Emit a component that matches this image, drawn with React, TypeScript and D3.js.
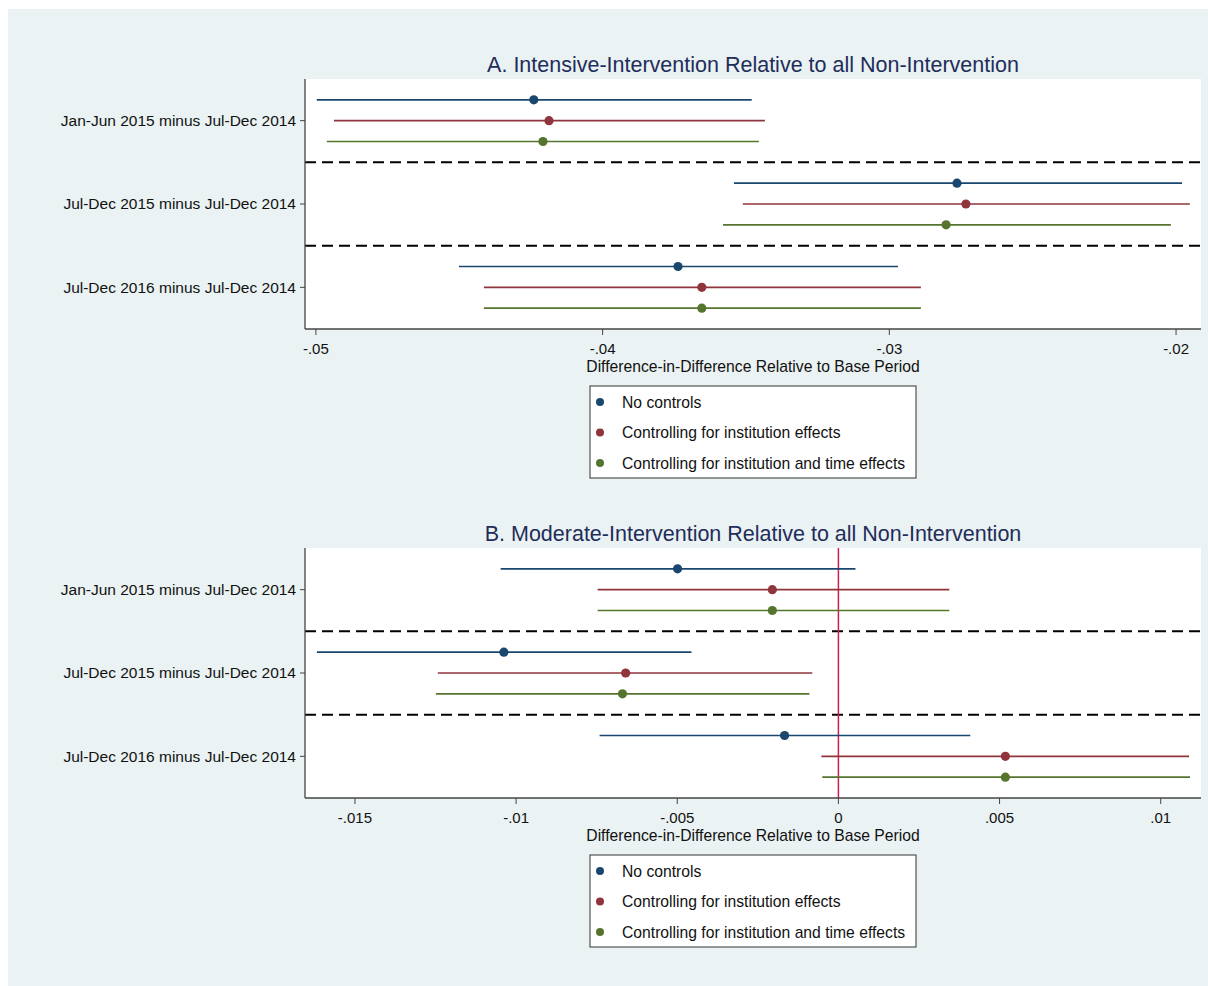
import React from "react";
import * as d3 from "d3";

const categories = [
  "Jan-Jun 2015 minus Jul-Dec 2014",
  "Jul-Dec 2015 minus Jul-Dec 2014",
  "Jul-Dec 2016 minus Jul-Dec 2014",
];
const seriesNames = [
  "No controls",
  "Controlling for institution effects",
  "Controlling for institution and time effects",
];
const seriesColors = ["#1a476f", "#90353b", "#55752f"];

// Panel A
const aNoEst = [-0.0424, -0.02764, -0.03737];
const aNoLo = [-0.04997, -0.03542, -0.04501];
const aNoHi = [-0.0348, -0.01979, -0.0297];
const aInstEst = [-0.04187, -0.02733, -0.03654];
const aInstLo = [-0.04937, -0.03511, -0.04414];
const aInstHi = [-0.03434, -0.01952, -0.0289];
const aTimeEst = [-0.04208, -0.02802, -0.03654];
const aTimeLo = [-0.04962, -0.0358, -0.04414];
const aTimeHi = [-0.03455, -0.02018, -0.0289];
const aTicks = [-0.05, -0.04, -0.03, -0.02];
const aTickLabels = ["-.05", "-.04", "-.03", "-.02"];
const aDomain = [-0.05038, -0.01913];

// Panel B
const bNoEst = [-0.00499, -0.01038, -0.00167];
const bNoLo = [-0.01048, -0.01618, -0.00741];
const bNoHi = [0.00053, -0.00456, 0.00409];
const bInstEst = [-0.00205, -0.0066, 0.00518];
const bInstLo = [-0.00747, -0.01243, -0.00053];
const bInstHi = [0.00344, -0.00081, 0.01088];
const bTimeEst = [-0.00205, -0.0067, 0.00518];
const bTimeLo = [-0.00747, -0.01249, -0.0005];
const bTimeHi = [0.00344, -0.0009, 0.01091];
const bTicks = [-0.015, -0.01, -0.005, 0, 0.005, 0.01];
const bTickLabels = ["-.015", "-.01", "-.005", "0", ".005", ".01"];
const bDomain = [-0.01655, 0.01125];

const xTitle = "Difference-in-Difference Relative to Base Period";
const FONT = "'Liberation Sans', Arial, Helvetica, sans-serif";

type Panel = {
  title: string;
  est: number[][];
  lo: number[][];
  hi: number[][];
  ticks: number[];
  tickLabels: string[];
  domain: number[];
  top: number;
  zeroLine: boolean;
};

const panels: Panel[] = [
  {
    title: "A. Intensive-Intervention Relative to all Non-Intervention",
    est: [aNoEst, aInstEst, aTimeEst],
    lo: [aNoLo, aInstLo, aTimeLo],
    hi: [aNoHi, aInstHi, aTimeHi],
    ticks: aTicks,
    tickLabels: aTickLabels,
    domain: aDomain,
    top: 79,
    zeroLine: false,
  },
  {
    title: "B. Moderate-Intervention Relative to all Non-Intervention",
    est: [bNoEst, bInstEst, bTimeEst],
    lo: [bNoLo, bInstLo, bTimeLo],
    hi: [bNoHi, bInstHi, bTimeHi],
    ticks: bTicks,
    tickLabels: bTickLabels,
    domain: bDomain,
    top: 548,
    zeroLine: true,
  },
];

const PL = 305;
const PR = 1201;
const PH = 250;

function PanelView({ p }: { p: Panel }) {
  const x = d3.scaleLinear().domain(p.domain).range([PL, PR]);
  const y = d3.scaleLinear().domain([0, 12]).range([p.top, p.top + PH]);
  const bottom = p.top + PH;
  const cx = (PL + PR) / 2;
  return (
    <g>
      <text x={cx} y={p.top - 7} textAnchor="middle" fontSize={21.5} fill="#1f2d5a" fontFamily={FONT}>
        {p.title}
      </text>
      <rect x={PL} y={p.top} width={PR - PL} height={PH} fill="#ffffff" />
      {[4, 8].map((k) => (
        <line key={k} x1={PL} x2={PR} y1={y(k)} y2={y(k)} stroke="#000" strokeWidth={2} strokeDasharray="11,6" />
      ))}
      {p.zeroLine && (
        <line x1={x(0)} x2={x(0)} y1={p.top} y2={bottom} stroke="#d31c4b" strokeWidth={1.5} />
      )}
      {p.est.map((ser, j) =>
        ser.map((v, i) => {
          const yy = y(4 * i + 1 + j);
          return (
            <g key={`${j}-${i}`}>
              <line x1={x(p.lo[j][i])} x2={x(p.hi[j][i])} y1={yy} y2={yy} stroke={seriesColors[j]} strokeWidth={1.6} />
              <circle cx={x(v)} cy={yy} r={4.6} fill={seriesColors[j]} />
            </g>
          );
        })
      )}
      <line x1={PL} x2={PL} y1={p.top} y2={bottom} stroke="#444" strokeWidth={1.3} />
      <line x1={PL} x2={PR} y1={bottom} y2={bottom} stroke="#444" strokeWidth={1.3} />
      {categories.map((c, i) => {
        const yy = y(4 * i + 2);
        return (
          <g key={c}>
            <line x1={PL - 5} x2={PL} y1={yy} y2={yy} stroke="#444" strokeWidth={1} />
            <text x={PL - 9} y={yy} dy="0.35em" textAnchor="end" fontSize={15.5} fill="#111" fontFamily={FONT}>
              {c}
            </text>
          </g>
        );
      })}
      {p.ticks.map((t, i) => (
        <g key={t}>
          <line x1={x(t)} x2={x(t)} y1={bottom} y2={bottom + 6} stroke="#444" strokeWidth={1} />
          <text x={x(t)} y={bottom + 25} textAnchor="middle" fontSize={15} fill="#111" fontFamily={FONT}>
            {p.tickLabels[i]}
          </text>
        </g>
      ))}
      <text x={cx} y={bottom + 43} textAnchor="middle" fontSize={15.7} fill="#111" fontFamily={FONT}>
        {xTitle}
      </text>
      <g transform={`translate(590, ${bottom + 57})`}>
        <rect x={0} y={0} width={326} height={92} fill="#fff" stroke="#333" strokeWidth={1} />
        {seriesNames.map((s, j) => (
          <g key={s} transform={`translate(0, ${16 + j * 30.5})`}>
            <circle cx={10} cy={0} r={4} fill={seriesColors[j]} />
            <text x={32} y={0} dy="0.35em" fontSize={15.7} fill="#111" fontFamily={FONT}>
              {s}
            </text>
          </g>
        ))}
      </g>
    </g>
  );
}

export default function App() {
  return (
    <svg
      width={1208}
      height={986}
      style={{ position: "fixed", left: 0, top: 0 }}
    >
      <rect x={0} y={0} width={1208} height={986} fill="#ffffff" />
      <rect x={8} y={9} width={1200} height={977} fill="#eaf2f3" />
      {panels.map((p) => (
        <PanelView key={p.title} p={p} />
      ))}
    </svg>
  );
}
